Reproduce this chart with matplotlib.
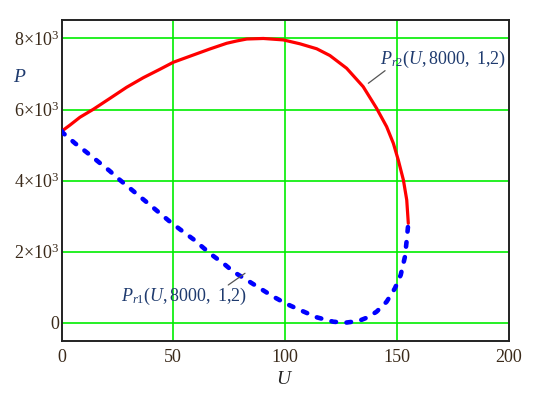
import matplotlib
matplotlib.use('Agg')
import matplotlib.pyplot as plt
import numpy as np

# values
# upper branch P_r2(U)
u_r2 = [0.0, 0.8, 3.8, 8.2, 14.2, 21.7, 29.1, 36.6, 44.0, 50.0, 59.0, 66.4,
        73.9, 78.4, 82.9, 90.3, 99.2, 106.7, 114.2, 120.1, 127.6, 135.0,
        141.0, 145.5, 148.5, 150.7, 153.0, 154.5, 155.2]
p_r2 = [5400, 5425, 5565, 5782, 6007, 6317, 6626, 6897, 7133, 7330, 7536, 7705,
        7865, 7930, 7985, 8000, 7960, 7850, 7710, 7520, 7161, 6643,
        6035, 5517, 5050, 4580, 4017, 3454, 2798]

# lower branch P_r1(U)
u_r1 = [0.0, 0.8, 6.0, 11.2, 16.4, 21.4, 26.1, 30.6, 35.1, 39.6, 44.0, 48.5,
        53.8, 59.0, 63.4, 67.9, 72.4, 76.9, 82.9, 88.8, 94.8, 100.8, 106.7,
        114.2, 121.6, 127.0, 133.0, 137.0, 141.0, 145.5, 149.2, 151.8, 153.7,
        154.5, 154.9, 155.2]
p_r1 = [5400, 5332, 5050, 4797, 4532, 4279, 4017, 3783, 3547, 3313, 3080, 2843,
        2590, 2348, 2111, 1878, 1672, 1436, 1202, 968, 732, 526, 358,
        152, 28, 0, 50, 150, 310, 591, 968, 1343, 1858,
        2328, 2600, 2798]

x_ticks = [0, 50, 100, 150, 200]
y_ticks = [0, 2000, 4000, 6000, 8000]
y_labels = ['0', r'$2{\times}10^{3}$', r'$4{\times}10^{3}$',
            r'$6{\times}10^{3}$', r'$8{\times}10^{3}$']

plt.rcParams['mathtext.fontset'] = 'custom'
plt.rcParams['mathtext.rm'] = 'Liberation Serif'
plt.rcParams['mathtext.it'] = 'Liberation Serif:italic'
plt.rcParams['font.family'] = 'Liberation Serif'

fig = plt.figure(figsize=(5.5, 3.99), dpi=100)
ax = fig.add_axes([61.6 / 550, 1 - 341 / 399, (509.5 - 61.6) / 550, (341 - 20) / 399])

for v in x_ticks[1:-1]:
    ax.axvline(v, color='#00ee00', lw=1.2, zorder=1)
for v in y_ticks:
    ax.axhline(v, color='#00ee00', lw=1.2, zorder=1)

ax.plot(u_r2, p_r2, color='#ff0000', lw=2.3, zorder=3, solid_capstyle='round')
ax.plot(u_r1, p_r1, color='#0000ff', lw=3.3, zorder=3,
        linestyle=(0, (1.0, 2.3)), dash_capstyle='round')

ax.set_xlim(0, 200.5)
ax.set_ylim(-515, 8520)
ax.set_xticks(x_ticks)
ax.set_xticklabels([str(v) for v in x_ticks])
ax.set_yticks(y_ticks)
ax.set_yticklabels(y_labels)
ax.tick_params(axis='x', length=0, labelsize=13, colors='#3a2a1a', pad=6)
ax.tick_params(axis='y', length=0, labelsize=13, colors='#3a2a1a', pad=2)
for s in ax.spines.values():
    s.set_linewidth(1.4)
    s.set_color('#222222')

lab_col = '#1e3a6e'
fig.text(20 / 550, 1 - 77 / 399, r'$P$', fontsize=14, color=lab_col,
         ha='center', va='center')
fig.text(285 / 550, 1 - 380 / 399, r'$U$', fontsize=14, color='#222222',
         ha='center', va='center')

# curve labels and their leader lines
ax.text(142.5, 7400, r'$P_{r2}(U,8000,\ 1{,}2)$', fontsize=13, color=lab_col,
        ha='left', va='center')
ax.annotate('', xy=(137.3, 6739), xytext=(144.8, 7094),
            arrowprops=dict(arrowstyle='-', color='#555555', lw=0.9,
                            shrinkA=0, shrinkB=0))
ax.text(26.8, 732, r'$P_{r1}(U,8000,\ 1{,}2)$', fontsize=13, color=lab_col,
        ha='left', va='center')
ax.annotate('', xy=(82.1, 1391), xytext=(74.6, 1061),
            arrowprops=dict(arrowstyle='-', color='#555555', lw=0.9,
                            shrinkA=0, shrinkB=0))

fig.savefig('out.png', dpi=100)
